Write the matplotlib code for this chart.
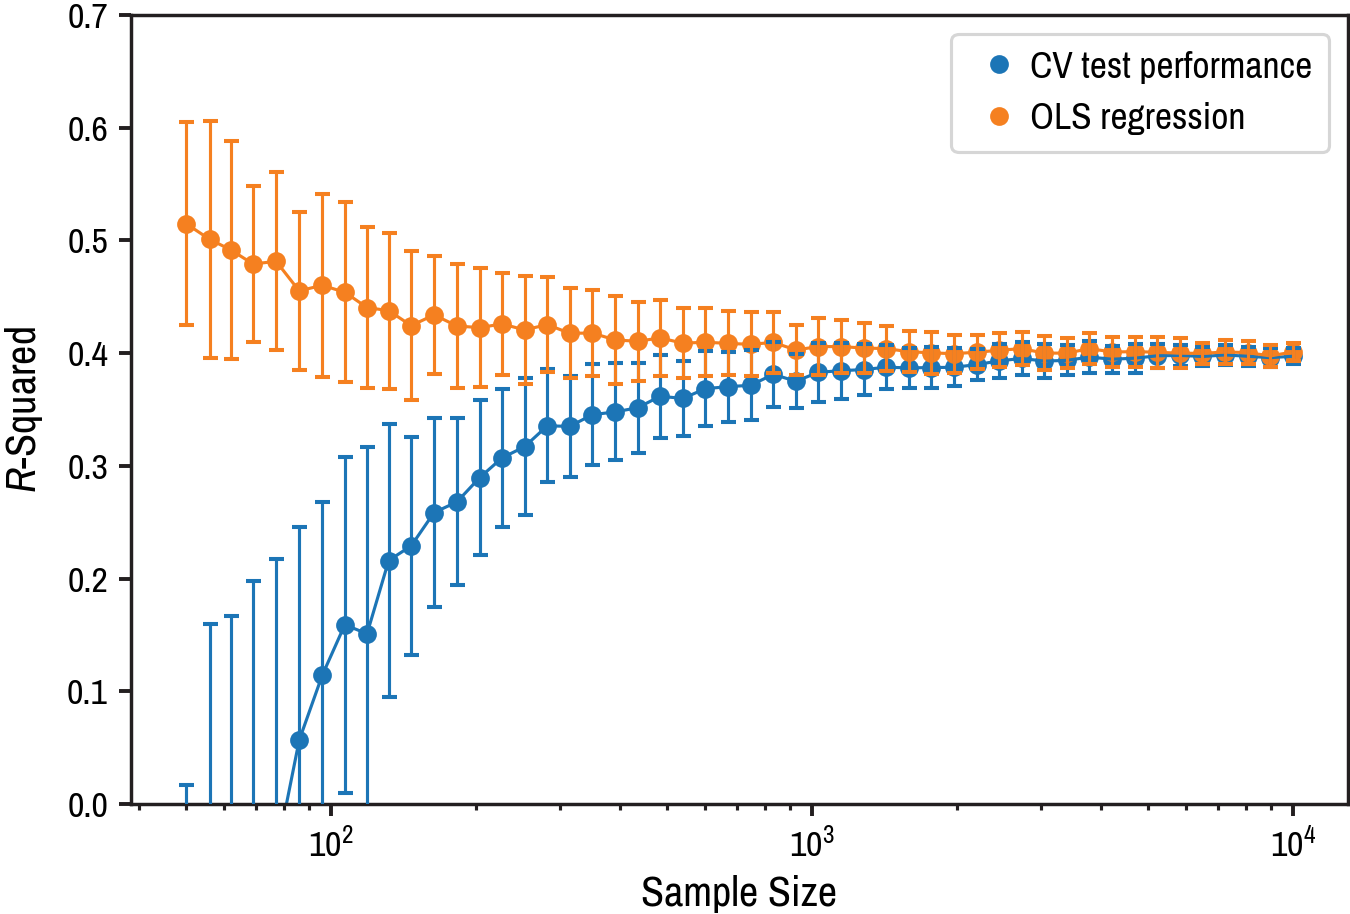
import matplotlib
matplotlib.use("Agg")
import matplotlib.pyplot as plt
from matplotlib.lines import Line2D

plt.rcParams['font.family'] = ['Archivo Narrow', 'DejaVu Sans']
plt.rcParams['mathtext.fontset'] = 'custom'
plt.rcParams['mathtext.rm'] = 'Archivo Narrow'
plt.rcParams['mathtext.it'] = 'Archivo Narrow:italic'

sample_size = [50, 56, 62, 69, 77, 86, 96, 107, 119, 132, 147, 164, 183, 204, 227,
               253, 282, 314, 350, 390, 435, 484, 540, 601, 670, 747, 832, 927,
               1032, 1150, 1282, 1428, 1591, 1773, 1975, 2201, 2452, 2732, 3044,
               3392, 3779, 4211, 4692, 5228, 5825, 6490, 7231, 8057, 8977, 10000]

cv_mean = [-0.300, -0.200, -0.150, -0.090, -0.046, 0.0565, 0.114, 0.159, 0.151, 0.216,
           0.229, 0.2585, 0.268, 0.2895, 0.307, 0.317, 0.3355, 0.335, 0.3454, 0.3478,
           0.3516, 0.3617, 0.3598, 0.3685, 0.3702, 0.3715, 0.3812, 0.3750, 0.3830, 0.3844,
           0.3854, 0.3875, 0.3869, 0.3872, 0.3874, 0.3898, 0.3931, 0.3953, 0.3929, 0.3936,
           0.3965, 0.3946, 0.3955, 0.3976, 0.3980, 0.3970, 0.3984, 0.3972, 0.3960, 0.3972]
cv_err = [0.3166, 0.3594, 0.3165, 0.2876, 0.263, 0.189, 0.154, 0.149, 0.1655, 0.121,
          0.097, 0.084, 0.074, 0.069, 0.061, 0.061, 0.050, 0.045, 0.045, 0.043,
          0.040, 0.037, 0.0335, 0.033, 0.031, 0.031, 0.029, 0.024, 0.026, 0.025,
          0.023, 0.0195, 0.018, 0.018, 0.0168, 0.014, 0.015, 0.015, 0.0148, 0.0132,
          0.0144, 0.012, 0.0128, 0.0104, 0.0092, 0.008, 0.009, 0.0086, 0.0084, 0.0072]

ols_mean = [0.515, 0.501, 0.4916, 0.479, 0.4815, 0.4552, 0.4602, 0.454, 0.4404, 0.4377,
            0.4244, 0.4339, 0.4241, 0.4226, 0.4259, 0.4206, 0.4253, 0.4176, 0.4178, 0.4117,
            0.4105, 0.4135, 0.4088, 0.4097, 0.4086, 0.4078, 0.4095, 0.4028, 0.4058, 0.4058,
            0.4045, 0.4040, 0.4013, 0.4002, 0.3995, 0.4008, 0.4025, 0.4040, 0.4000, 0.4000,
            0.4040, 0.4010, 0.4013, 0.4008, 0.3999, 0.3998, 0.4010, 0.4005, 0.3975, 0.4010]
ols_err = [0.090, 0.105, 0.0964, 0.069, 0.079, 0.070, 0.081, 0.080, 0.0714, 0.0693,
           0.066, 0.052, 0.055, 0.053, 0.0453, 0.048, 0.042, 0.040, 0.038, 0.039,
           0.035, 0.034, 0.031, 0.030, 0.0284, 0.0284, 0.027, 0.022, 0.025, 0.0234,
           0.022, 0.0197, 0.0182, 0.0188, 0.0167, 0.0151, 0.0151, 0.0145, 0.0148, 0.013,
           0.0136, 0.013, 0.0133, 0.0137, 0.0133, 0.0096, 0.0108, 0.0102, 0.0097, 0.0084]

blue = '#1c75b6'
orange = '#f58020'
dark = '#231f20'

fig = plt.figure(figsize=(6, 914 / 225.), dpi=225)
ax = fig.add_axes([0.0967, 0.1204, 0.9019, 0.8632])

# markers first, then connecting lines, error bars on top
ax.plot(sample_size, cv_mean, 'o', color=blue, ms=5, mew=1, zorder=2)
ax.plot(sample_size, ols_mean, 'o', color=orange, ms=5, mew=1, zorder=2)
ax.plot(sample_size, cv_mean, '-', color=blue, lw=1.0, zorder=2.5)
ax.plot(sample_size, ols_mean, '-', color=orange, lw=1.0, zorder=2.5)
ax.errorbar(sample_size, cv_mean, yerr=cv_err, fmt='none', ecolor=blue,
            elinewidth=1.0, capsize=2.4, capthick=1.3, zorder=3)
ax.errorbar(sample_size, ols_mean, yerr=ols_err, fmt='none', ecolor=orange,
            elinewidth=1.0, capsize=2.4, capthick=1.3, zorder=3)

ax.set_xscale('log')
ax.set_ylim(0, 0.7)

for s in ax.spines.values():
    s.set_linewidth(1.1)
    s.set_color(dark)
ax.tick_params(which='major', direction='out', length=3.7, width=1.25,
               color=dark, labelsize=11.5, labelcolor='black')
ax.tick_params(which='minor', direction='out', length=2.0, width=1.0, color=dark)

ax.set_xlabel('Sample Size', fontsize=13.5, labelpad=4)
ax.set_ylabel('$R$-Squared', fontsize=13.5, labelpad=7)

handles = [Line2D([], [], marker='o', ls='none', color=blue, ms=5, mew=1),
           Line2D([], [], marker='o', ls='none', color=orange, ms=5, mew=1)]
ax.legend(handles, ['CV test performance', 'OLS regression'],
          loc='upper right', fontsize=12, borderpad=0.45,
          handlelength=1.65, handletextpad=0.0)

fig.savefig('out.png', dpi=225)
